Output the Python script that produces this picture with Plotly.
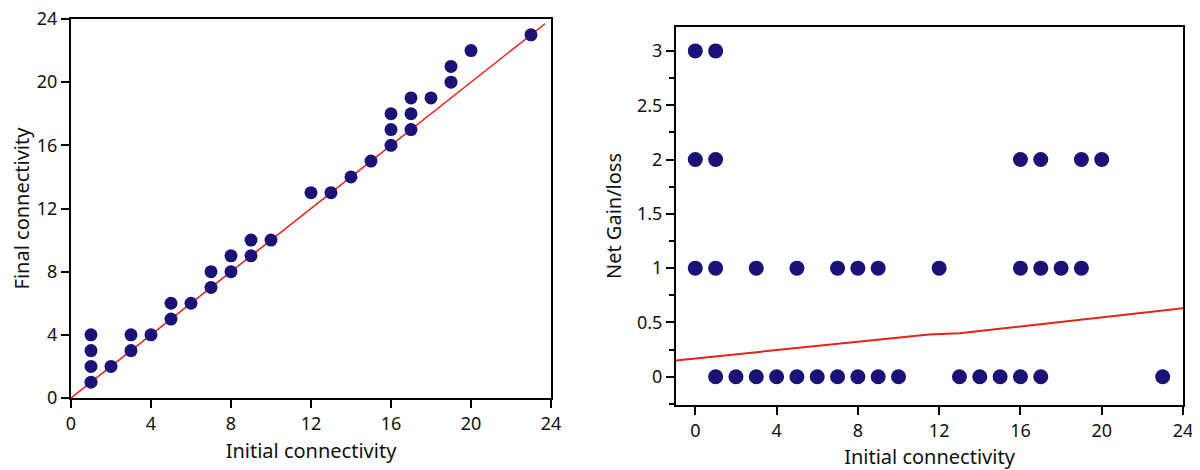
import plotly.graph_objects as go

# Left panel data
init_left = [1, 1, 1, 1, 2, 3, 3, 4, 5, 5, 6, 7, 7, 8, 8, 9, 9, 10, 12, 13, 14, 15,
             16, 16, 16, 17, 17, 17, 18, 19, 19, 20, 23]
final_left = [1, 2, 3, 4, 2, 3, 4, 4, 5, 6, 6, 7, 8, 8, 9, 9, 10, 10, 13, 13, 14, 15,
              16, 17, 18, 17, 18, 19, 19, 20, 21, 22, 23]
diag_x = [0, 23.7]
diag_y = [0, 23.7]

# Right panel data
init_right = [0, 1,
              0, 1, 16, 17, 19, 20,
              0, 1, 3, 5, 7, 8, 9, 12, 16, 17, 18, 19,
              1, 2, 3, 4, 5, 6, 7, 8, 9, 10, 13, 14, 15, 16, 17, 23]
net_right = [3, 3,
             2, 2, 2, 2, 2, 2,
             1, 1, 1, 1, 1, 1, 1, 1, 1, 1, 1, 1,
             0, 0, 0, 0, 0, 0, 0, 0, 0, 0, 0, 0, 0, 0, 0, 0]
trend_x = [-0.95, 11.5, 13, 24]
trend_y = [0.15, 0.39, 0.40, 0.63]

ticks_x = [0, 4, 8, 12, 16, 20, 24]
ticks_y_left = [0, 4, 8, 12, 16, 20, 24]
ticks_y_right = [0, 0.5, 1, 1.5, 2, 2.5, 3]
ticks_y_right_text = ["0", "0.5", "1", "1.5", "2", "2.5", "3"]

NAVY = "#1b1278"
RED = "#e8201c"
FONT = "Noto Sans"
W, H = 1192, 462

fig = go.Figure()
fig.add_trace(go.Scatter(x=diag_x, y=diag_y, mode="lines",
                         line=dict(color=RED, width=1.5), xaxis="x", yaxis="y",
                         showlegend=False))
fig.add_trace(go.Scatter(x=init_left, y=final_left, mode="markers",
                         marker=dict(color=NAVY, size=13), xaxis="x", yaxis="y",
                         showlegend=False))
fig.add_trace(go.Scatter(x=trend_x, y=trend_y, mode="lines",
                         line=dict(color=RED, width=2), xaxis="x2", yaxis="y2",
                         showlegend=False))
fig.add_trace(go.Scatter(x=init_right, y=net_right, mode="markers",
                         marker=dict(color=NAVY, size=15), xaxis="x2", yaxis="y2",
                         showlegend=False))

axis_common = dict(showgrid=False, zeroline=False, showline=True, linecolor="black",
                   linewidth=2, mirror=True, ticks="outside", ticklen=8, tickwidth=2,
                   tickcolor="black", tickfont=dict(family=FONT, size=18, color="#111"),
                   ticklabeloverflow="allow", automargin=False)
title_font = dict(family=FONT, size=20, color="#111")

fig.update_layout(
    width=W, height=H,
    margin=dict(l=0, r=0, t=0, b=0),
    paper_bgcolor="white", plot_bgcolor="white",
    xaxis=dict(domain=[63/W, 543/W], range=[0, 24], tickvals=ticks_x,
               title=dict(text="Initial connectivity", font=title_font, standoff=10),
               anchor="y", **axis_common),
    yaxis=dict(domain=[1-390/H, 1-11/H], range=[0, 24], tickvals=ticks_y_left,
               title=dict(text="Final connectivity", font=title_font, standoff=8),
               anchor="x", **axis_common),
    xaxis2=dict(domain=[668/W, 1175/W], range=[-0.95, 24], tickvals=ticks_x,
                title=dict(text="Initial connectivity", font=title_font, standoff=10),
                anchor="y2", **axis_common),
    yaxis2=dict(domain=[1-397/H, 1-19/H], range=[-0.26, 3.22], tickvals=ticks_y_right,
                ticktext=ticks_y_right_text,
                minor=dict(dtick=0.25, ticks="outside", ticklen=5, tickwidth=2, tickcolor="black"),
                title=dict(text="Net Gain/loss", font=title_font, standoff=10),
                anchor="x2", **axis_common),
)

fig.write_html("out.html")
